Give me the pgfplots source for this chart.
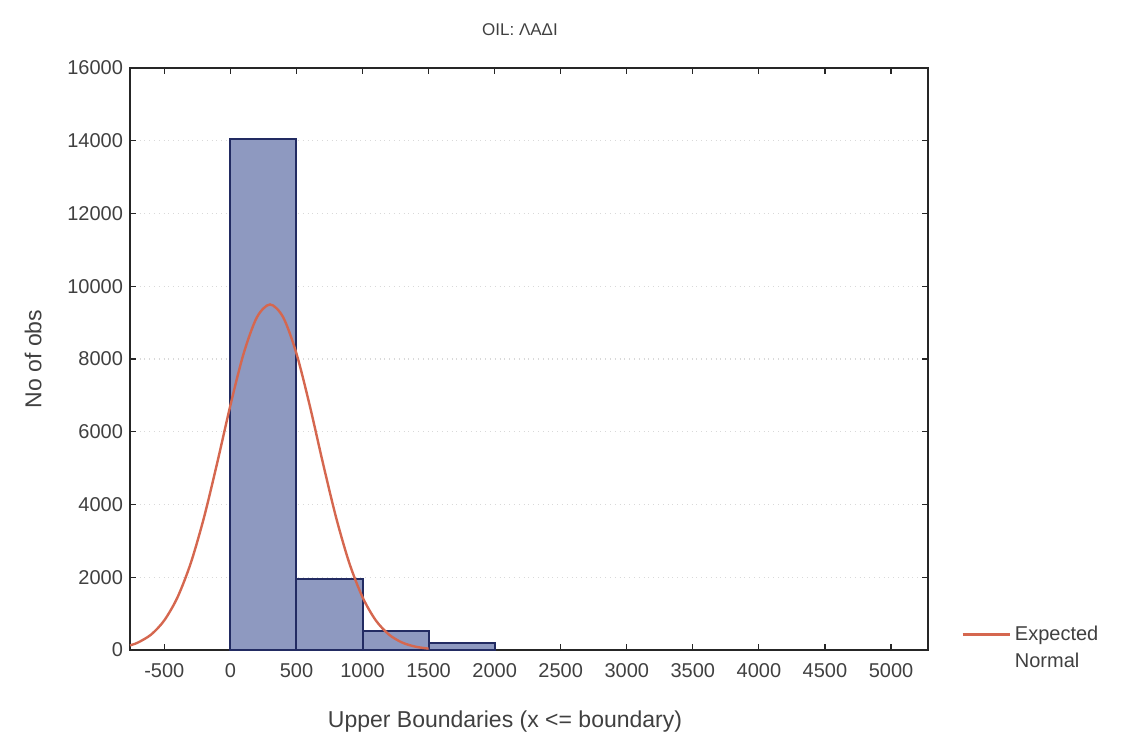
\documentclass[border=0pt]{standalone}
\usepackage{pgfplots}
\pgfplotsset{compat=1.18}
\usepackage{fontspec}
\setmainfont{Liberation Sans}
\definecolor{barfill}{HTML}{8E99C0}
\definecolor{baredge}{HTML}{222B62}
\definecolor{curvered}{HTML}{D5674F}
\begin{document}
\begin{tikzpicture}
\path[use as bounding box] (-65pt,-43pt) rectangle (500.5pt,325pt);
\begin{axis}[
  at={(0,0)}, anchor=south west,
  scale only axis, width=399pt, height=291pt,
  xmin=-760, xmax=5280, ymin=0, ymax=16000,
  xtick={-500,0,...,5000},
  ytick={0,2000,...,16000},
  scaled y ticks=false, scaled x ticks=false,
  tick align=inside,
  major tick length=3pt,
  axis line style={line width=0.9pt, black!85},
  tick style={black!85, line width=0.6pt},
  /pgf/number format/1000 sep={},
  /pgf/number format/assume math mode=true,
  ticklabel style={font=\fontsize{10}{12}\selectfont, text=black!75},
  xticklabel style={yshift=-3pt},
  ymajorgrids,
  grid style={gray!30, dotted, line width=0.6pt},
  xlabel={Upper Boundaries (x <= boundary)},
  ylabel={No of obs},
  xlabel style={font=\fontsize{11.5}{13}\selectfont, text=black!75, xshift=-12pt, yshift=-10pt},
  ylabel style={font=\fontsize{11.5}{13}\selectfont, text=black!75, yshift=6pt},
  legend style={at={(1.034,-0.05)}, anchor=south west, draw=none, fill=none,
    font=\fontsize{10}{12}\selectfont, text=black!75, row sep=1pt},
  legend cell align=left,
  legend image code/.code={\draw[#1, line width=1.2pt] (0pt,0pt) -- (23.5pt,0pt);},
]
\addplot[ybar interval, fill=barfill, draw=baredge, line width=1pt, forget plot]
  coordinates {(0,14050) (500,1950) (1000,530) (1500,180) (2000,0)};
\addplot[curvered, line width=1.2pt, smooth] coordinates {
(-760,128) (-700,205) (-600,425) (-500,817) (-400,1452) (-300,2390)
(-200,3642) (-100,5143) (0,6728) (100,8149) (200,9143) (300,9500)
(400,9143) (500,8149) (600,6728) (700,5143) (800,3642) (900,2390)
(1000,1452) (1100,817) (1200,425) (1300,205) (1400,92) (1500,38)
};
\addlegendentry{Expected}
\addlegendimage{empty legend}
\addlegendentry{Normal}
\end{axis}
\node[font=\fontsize{8.5}{10}\selectfont, text=black!75] at (195pt,310pt) {OIL: ΛΑΔΙ};
\end{tikzpicture}
\end{document}
